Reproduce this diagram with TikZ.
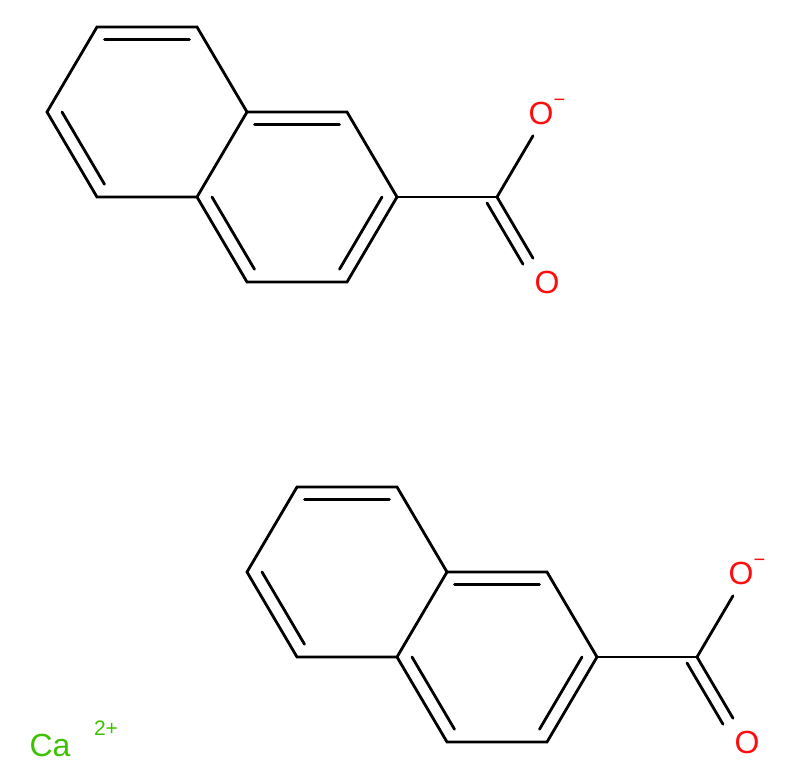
\documentclass[tikz,border=0pt]{standalone}
\usepackage{fontspec}
\setmainfont{Liberation Sans}
\usetikzlibrary{calc}
\definecolor{oxred}{RGB}{255,13,13}
\definecolor{cagreen}{RGB}{61,194,0}
\begin{document}
\begin{tikzpicture}[x=1pt,y=-1pt,line width=2.8pt]
\tikzstyle{atom}=[inner sep=0pt,font=\fontsize{32}{32}\selectfont]
\tikzstyle{bond}=[line cap=round]
\useasboundingbox (0,0) rectangle (802,780);
\foreach \m/\dx/\dy in {a/0/0,b/200/460}{
\begin{scope}[shift={(\dx,\dy)}]
\foreach \name/\point in {
	1/{97,27}, 2/{197,27}, 3/{247,112}, 4/{197,197}, 5/{97,197}, 6/{47,112},
	7/{347,112}, 8/{397,197}, 9/{347,282}, 10/{247,282}, 11/{497,197}}
	\coordinate (\m\name) at (\point);
\coordinate (\m l) at (147,112);
\coordinate (\m r) at (297,197);
\node[atom,text=oxred] (\m om) at (547,112) {O\raisebox{0.55em}{\fontsize{20}{20}\selectfont\textminus}};
\node[atom,text=oxred] (\m o) at (547,282) {O};
\draw[bond] (\m1)--(\m2)--(\m3)--(\m4)--(\m5)--(\m6)--cycle;
\draw[bond] (\m3)--(\m7)--(\m8)--(\m9)--(\m10)--(\m4);
\draw[bond] ($(\m1)!0.15!(\m l)$)--($(\m2)!0.15!(\m l)$);
\draw[bond] ($(\m6)!0.15!(\m l)$)--($(\m5)!0.15!(\m l)$);
\draw[bond] ($(\m3)!0.15!(\m r)$)--($(\m7)!0.15!(\m r)$);
\draw[bond] ($(\m8)!0.15!(\m r)$)--($(\m9)!0.15!(\m r)$);
\draw[bond] ($(\m4)!0.15!(\m r)$)--($(\m10)!0.15!(\m r)$);
\draw[bond] (\m8)--(\m11);
\draw[bond] (\m11)--($(\m11)!0.72!(\m om)$);
\draw[bond] (\m11)--($(\m11)!0.72!(\m o)$);
\draw[bond] ($(\m11)+(-10,6)$)--($(\m11)!0.72!(\m o)+(-10,6)$);
\end{scope}}
\node[atom,text=cagreen] (ca) at (50,745) {Ca};
\node[atom,text=cagreen,font=\fontsize{21}{21}\selectfont] (cq) at (106,728) {2+};
\end{tikzpicture}
\end{document}
